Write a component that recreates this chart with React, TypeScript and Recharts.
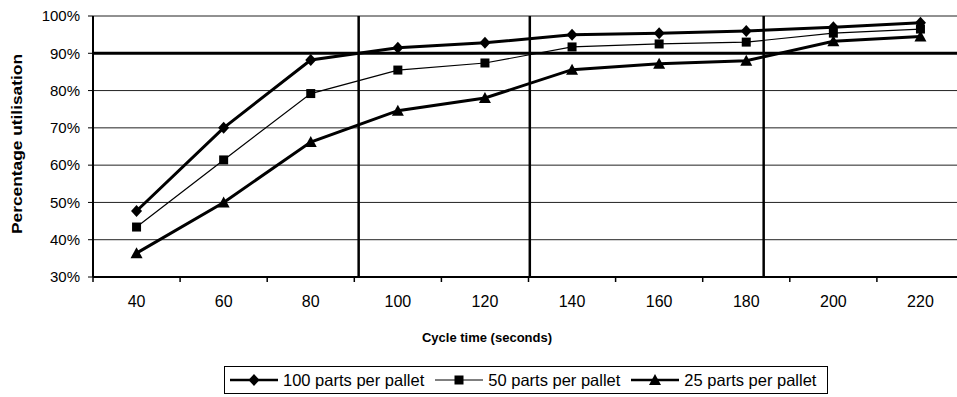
import { LineChart, Line, XAxis, YAxis, CartesianGrid, ReferenceLine, Legend, Label } from "recharts";

const cycleTimes = [40, 60, 80, 100, 120, 140, 160, 180, 200, 220];
const parts100 = [0.477, 0.7, 0.882, 0.915, 0.928, 0.95, 0.954, 0.96, 0.97, 0.982];
const parts50 = [0.434, 0.614, 0.792, 0.855, 0.874, 0.917, 0.925, 0.93, 0.954, 0.965];
const parts25 = [0.364, 0.5, 0.662, 0.746, 0.78, 0.856, 0.872, 0.88, 0.932, 0.945];

const xTicks = [30, 40, 50, 60, 70, 80, 90, 100, 110, 120, 130, 140, 150, 160, 170, 180, 190, 200, 210, 220, 230];
const yTicks = [0.3, 0.4, 0.5, 0.6, 0.7, 0.8, 0.9, 1];
const markerLines = [91, 130.3, 184];
const targetLevel = 0.9;

const data = cycleTimes.map((c, i) => ({
  cycle: c,
  p100: parts100[i],
  p50: parts50[i],
  p25: parts25[i],
}));

const FONT = "Arial, 'Liberation Sans', sans-serif";

type Shape = "diamond" | "square" | "triangle";

const marker = (shape: Shape, cx: number, cy: number, key?: string) => {
  if (shape === "diamond")
    return <polygon key={key} points={`${cx},${cy - 6} ${cx + 5.5},${cy} ${cx},${cy + 6} ${cx - 5.5},${cy}`} fill="#000" />;
  if (shape === "square")
    return <rect key={key} x={cx - 4.5} y={cy - 4.5} width={9} height={9} fill="#000" />;
  return <polygon key={key} points={`${cx},${cy - 6} ${cx + 6},${cy + 5} ${cx - 6},${cy + 5}`} fill="#000" />;
};

const series = [
  { key: "p100", name: "100 parts per pallet", shape: "diamond" as Shape, width: 3 },
  { key: "p50", name: "50 parts per pallet", shape: "square" as Shape, width: 1.2 },
  { key: "p25", name: "25 parts per pallet", shape: "triangle" as Shape, width: 3 },
];

const XTick = (props: any) => {
  const { x, y, payload } = props;
  const v = payload.value;
  if ((v - 30) % 20 === 0) {
    return <line x1={x} x2={x} y1={y} y2={y + 5} stroke="#000" strokeWidth={1.5} />;
  }
  return (
    <text x={x} y={y + 30} textAnchor="middle" fontSize={16} fontFamily={FONT} fill="#000">
      {v}
    </text>
  );
};

const LegendBox = () => (
  <div
    style={{
      border: "1px solid #000",
      height: 28,
      display: "flex",
      alignItems: "center",
      paddingLeft: 5,
      fontFamily: FONT,
      fontSize: 16.5,
      color: "#000",
      boxSizing: "border-box",
      whiteSpace: "nowrap",
    }}
  >
    {series.map((s) => (
      <div key={s.key} style={{ display: "flex", alignItems: "center", marginRight: 11, flexShrink: 0 }}>
        <svg width={48} height={16} style={{ marginRight: 5, flexShrink: 0 }}>
          <line x1={0} x2={48} y1={8} y2={8} stroke="#000" strokeWidth={s.width === 3 ? 2.5 : 1} />
          {marker(s.shape, 24, 8)}
        </svg>
        <span>{s.name}</span>
      </div>
    ))}
  </div>
);

export default function App() {
  return (
    <div style={{ position: "absolute", left: 0, top: 0, width: 957, height: 397, overflow: "hidden", background: "#fff" }}>
      <LineChart width={964} height={397} data={data} margin={{ top: 16, right: 0, bottom: 0, left: 0 }}>
        <CartesianGrid horizontal vertical={false} stroke="#222" strokeWidth={1} />
        <XAxis
          type="number"
          dataKey="cycle"
          domain={[30, 230]}
          ticks={xTicks}
          interval={0}
          tickLine={false}
          tickSize={0}
          tickMargin={0}
          tick={<XTick />}
          height={120}
          axisLine={{ stroke: "#000", strokeWidth: 2 }}
        >
          <Label
            content={() => (
              <text x={487} y={342} textAnchor="middle" fontSize={13} fontWeight="bold" fontFamily={FONT} fill="#000">
                Cycle time (seconds)
              </text>
            )}
          />
        </XAxis>
        <YAxis
          domain={[0.3, 1]}
          ticks={yTicks}
          width={93}
          tickFormatter={(v: number) => `${Math.round(v * 100)}%`}
          tickSize={5}
          tickMargin={8}
          tick={{ fontSize: 15, fontFamily: FONT, fill: "#000" }}
          tickLine={{ stroke: "#000" }}
          axisLine={{ stroke: "#000", strokeWidth: 2 }}
        >
          <Label
            content={() => (
              <text
                x={22}
                y={144}
                textAnchor="middle"
                fontSize={14}
                fontWeight="bold"
                fontFamily={FONT}
                fill="#000"
                textLength={180}
                lengthAdjust="spacingAndGlyphs"
                transform="rotate(-90, 22, 144)"
              >
                Percentage utilisation
              </text>
            )}
          />
        </YAxis>
        <ReferenceLine y={targetLevel} stroke="#000" strokeWidth={3} />
        {markerLines.map((x) => (
          <ReferenceLine key={x} x={x} stroke="#000" strokeWidth={2.5} />
        ))}
        {series.map((s) => (
          <Line
            key={s.key}
            type="linear"
            dataKey={s.key}
            name={s.name}
            stroke="#000"
            strokeWidth={s.width}
            isAnimationActive={false}
            dot={(p: any) => marker(s.shape, p.cx, p.cy, `${s.key}-${p.index}`)}
            activeDot={false}
          />
        ))}
        <Legend
          verticalAlign="middle"
          layout="horizontal"
          align="center"
          content={() => <LegendBox />}
          wrapperStyle={{ position: "absolute", left: 224, top: 366, width: 604, height: 28 }}
        />
      </LineChart>
    </div>
  );
}
